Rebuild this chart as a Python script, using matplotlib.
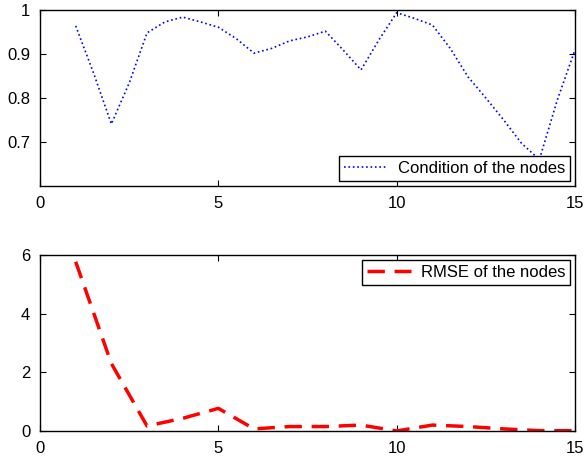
import matplotlib.pyplot as plt
from matplotlib.ticker import FormatStrFormatter

plt.rcParams['font.family'] = ['Liberation Sans', 'DejaVu Sans']
plt.rcParams['font.size'] = 12

# Condition of the nodes (every half step)
cond_x = [1, 1.5, 2, 2.5, 3, 3.5, 4, 4.5, 5, 5.5, 6, 6.5, 7, 7.5, 8,
          8.5, 9, 9.5, 10, 10.5, 11, 11.5, 12, 12.5, 13, 13.5, 14, 14.5, 15]
cond_y = [0.964, 0.857, 0.741, 0.834, 0.948, 0.973, 0.984, 0.973, 0.961, 0.935,
          0.902, 0.913, 0.930, 0.939, 0.952, 0.909, 0.864, 0.932, 0.994, 0.981,
          0.966, 0.913, 0.848, 0.800, 0.750, 0.697, 0.660, 0.795, 0.910]

# RMSE of the nodes
rmse_x = list(range(1, 16))
rmse_y = [5.77, 2.3, 0.17, 0.43, 0.77, 0.07, 0.15, 0.15, 0.2, 0.0,
          0.2, 0.15, 0.07, 0.01, 0.01]

fig = plt.figure(figsize=(5.85, 4.57), dpi=100)
ax1 = fig.add_axes([0.0684, 0.593, 0.9146, 0.385])
ax2 = fig.add_axes([0.0684, 0.057, 0.9146, 0.385])

ax1.plot(cond_x, cond_y, color='blue', linestyle=':', linewidth=1.2,
         label='Condition of the nodes')
ax1.set_xlim(0, 15)
ax1.set_ylim(0.6, 1)
ax1.set_xticks([0, 5, 10, 15])
ax1.set_yticks([0.7, 0.8, 0.9, 1])
ax1.yaxis.set_major_formatter(FormatStrFormatter('%g'))
ax1.legend(loc='lower right', fancybox=False, edgecolor='black',
           framealpha=1, borderaxespad=0.3, handlelength=2.6,
           borderpad=0.3, handletextpad=0.6)

ax2.plot(rmse_x, rmse_y, color='red', linewidth=2.5, dashes=(5, 2.8),
         label='RMSE of the nodes')
ax2.set_xlim(0, 15)
ax2.set_ylim(0, 6)
ax2.set_xticks([0, 5, 10, 15])
ax2.set_yticks([0, 2, 4, 6])
ax2.legend(loc='upper right', fancybox=False, edgecolor='black',
           framealpha=1, borderaxespad=0.3, handlelength=2.6,
           borderpad=0.3, handletextpad=0.6)

for ax in (ax1, ax2):
    ax.tick_params(direction='in', top=True, right=True, length=4, pad=7)
    for s in ax.spines.values():
        s.set_linewidth(1)

fig.savefig('out.png', dpi=100)
